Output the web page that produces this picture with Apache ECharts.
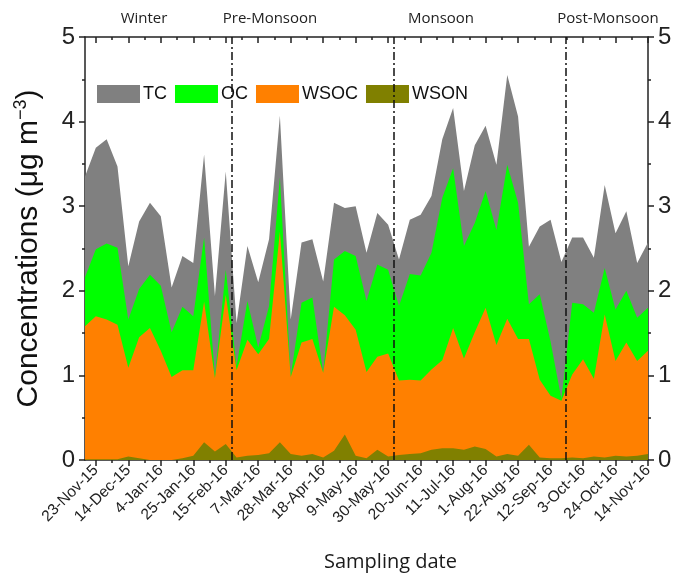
<!DOCTYPE html>
<html>
<head>
    <meta charset="UTF-8">
    <title>Carbon fractions</title>
    <script type="text/javascript" src="https://cdn.jsdelivr.net/npm/echarts@6/dist/echarts.min.js"></script>
</head>
<body style="margin: 0;overflow: hidden;background: #fff;">
<div id="chart" style="width: 677px;height: 577px;"></div>
<script type="text/javascript">
    // weekly samples, 16-Nov-15 .. 14-Nov-16
    var startDate = Date.UTC(2015, 10, 16);
    var weeks = 53;
    var tc = [3.35, 3.69, 3.79, 3.47, 2.29, 2.82, 3.04, 2.88, 2.04, 2.41, 2.33, 3.61, 1.94, 3.41, 1.62, 2.53, 2.10, 2.61,
        4.07, 1.66, 2.57, 2.61, 2.11, 3.04, 2.98, 3.00, 2.45, 2.92, 2.78, 2.37, 2.84, 2.90, 3.12, 3.79, 4.16, 3.18,
        3.72, 3.95, 3.49, 4.55, 4.06, 2.52, 2.76, 2.84, 2.34, 2.63, 2.63, 2.39, 3.25, 2.68, 2.94, 2.33, 2.57];
    var oc = [2.16, 2.49, 2.56, 2.51, 1.66, 2.02, 2.19, 2.06, 1.51, 1.81, 1.70, 2.63, 0.99, 2.25, 1.11, 1.88, 1.33, 1.82,
        3.34, 0.99, 1.86, 1.92, 1.03, 2.37, 2.47, 2.41, 1.88, 2.31, 2.25, 1.82, 2.20, 2.18, 2.45, 3.10, 3.45, 2.53,
        2.80, 3.18, 2.72, 3.49, 3.04, 1.84, 1.96, 1.40, 0.72, 1.86, 1.84, 1.74, 2.27, 1.78, 2.00, 1.68, 1.80];
    var wsoc = [1.58, 1.70, 1.66, 1.60, 1.09, 1.45, 1.56, 1.29, 0.98, 1.06, 1.06, 1.87, 0.97, 1.95, 1.06, 1.42, 1.25, 1.43,
        2.70, 0.98, 1.39, 1.43, 1.03, 1.81, 1.71, 1.54, 1.04, 1.22, 1.26, 0.94, 0.95, 0.94, 1.07, 1.18, 1.56, 1.20,
        1.51, 1.80, 1.36, 1.67, 1.43, 1.43, 0.95, 0.76, 0.70, 1.01, 1.19, 0.96, 1.72, 1.17, 1.39, 1.17, 1.29];
    var wson = [0.01, 0.01, 0.01, 0.01, 0.04, 0.02, 0.00, 0.00, 0.00, 0.02, 0.05, 0.21, 0.10, 0.19, 0.03, 0.05, 0.06, 0.08,
        0.21, 0.07, 0.05, 0.07, 0.03, 0.11, 0.30, 0.05, 0.02, 0.12, 0.04, 0.06, 0.07, 0.08, 0.12, 0.14, 0.14, 0.12,
        0.16, 0.13, 0.04, 0.07, 0.05, 0.18, 0.03, 0.02, 0.02, 0.03, 0.02, 0.04, 0.03, 0.05, 0.04, 0.05, 0.07];
    // season boundaries, in weeks from the first sample
    var seasonBreaks = [13.6, 28.5, 44.4];
    var seasons = ['Winter', 'Pre-Monsoon', 'Monsoon', 'Post-Monsoon'];
    var seasonX = [144, 270, 441, 608];

    var months = ['Jan', 'Feb', 'Mar', 'Apr', 'May', 'Jun', 'Jul', 'Aug', 'Sep', 'Oct', 'Nov', 'Dec'];
    var dates = [];
    for (var i = 0; i < weeks; i++) {
        var d = new Date(startDate + i * 7 * 86400000);
        dates.push(d.getUTCDate() + '-' + months[d.getUTCMonth()] + '-' + String(d.getUTCFullYear()).slice(2));
    }
    var halfWeeks = [];
    for (var j = 0; j < weeks * 2 - 1; j++) {
        halfWeeks.push('h' + j);
    }
    function isMajor(idx) { return idx % 3 === 1; }
    function isMinor(idx) { return idx % 6 === 5; }

    var axisColor = '#222';
    var chart = echarts.init(document.getElementById('chart'));

    var option = {
        backgroundColor: '#fff',
        animation: false,
        grid: {left: 85, right: 29, top: 37, bottom: 116},
        legend: {
            data: ['TC', 'OC', 'WSOC', 'WSON'],
            left: 92,
            top: 80,
            icon: 'rect',
            itemWidth: 43,
            itemHeight: 18,
            itemGap: 8,
            textStyle: {fontFamily: 'Liberation Sans', fontSize: 18, color: '#111', padding: [0, 0, 0, -2]}
        },
        graphic: seasons.map(function (s, k) {
            return {
                type: 'text',
                x: seasonX[k],
                y: 11,
                style: {text: s, font: '15px "Open Sans"', fill: '#222', align: 'center'}
            };
        }),
        xAxis: [{
            type: 'category',
            data: dates,
            boundaryGap: false,
            position: 'bottom',
            name: 'Sampling date',
            nameLocation: 'middle',
            nameGap: 92,
            nameTextStyle: {fontFamily: 'Open Sans', fontSize: 20, color: '#1a1a1a', padding: [0, 0, 0, 48]},
            axisLine: {lineStyle: {color: axisColor, width: 1.5}},
            axisTick: {interval: isMajor, length: 6, lineStyle: {color: axisColor, width: 1.5}},
            axisLabel: {interval: isMajor, rotate: 45, fontFamily: 'Liberation Sans', fontSize: 15.5, color: '#222', margin: 8},
            splitLine: {show: false}
        }, {
            type: 'category',
            data: halfWeeks,
            boundaryGap: false,
            position: 'bottom',
            axisLine: {show: false},
            axisTick: {interval: isMinor, length: 3, lineStyle: {color: axisColor, width: 1.5}},
            axisLabel: {show: false},
            splitLine: {show: false}
        }, {
            type: 'category',
            data: dates,
            boundaryGap: false,
            position: 'top',
            axisLine: {lineStyle: {color: axisColor, width: 1.5}},
            axisTick: {interval: isMajor, inside: true, length: 6, lineStyle: {color: axisColor, width: 1.5}},
            axisLabel: {show: false},
            splitLine: {show: false}
        }, {
            type: 'category',
            data: halfWeeks,
            boundaryGap: false,
            position: 'top',
            axisLine: {show: false},
            axisTick: {interval: isMinor, inside: true, length: 3, lineStyle: {color: axisColor, width: 1.5}},
            axisLabel: {show: false},
            splitLine: {show: false}
        }, {
            type: 'value',
            min: 0,
            max: weeks - 1,
            show: false
        }],
        yAxis: [{
            type: 'value',
            min: 0,
            max: 5,
            interval: 1,
            position: 'left',
            name: '{a|Concentrations (μg m}{b|−3}{a|)}',
            nameLocation: 'middle',
            nameRotate: 90,
            nameGap: 40,
            nameTextStyle: {
                rich: {
                    a: {fontFamily: 'Liberation Sans', fontSize: 30, color: '#111', lineHeight: 33},
                    b: {fontFamily: 'Liberation Sans', fontSize: 18, color: '#111', verticalAlign: 'top', lineHeight: 33}
                }
            },
            axisLine: {show: true, lineStyle: {color: axisColor, width: 1.5}},
            axisTick: {show: true, length: 6, lineStyle: {color: axisColor, width: 1.5}},
            minorTick: {show: true, splitNumber: 2, length: 3, lineStyle: {color: axisColor, width: 1.5}},
            axisLabel: {fontFamily: 'Liberation Sans', fontSize: 24, color: '#222', margin: 10},
            splitLine: {show: false}
        }, {
            type: 'value',
            min: 0,
            max: 5,
            interval: 1,
            position: 'right',
            axisLine: {show: true, lineStyle: {color: axisColor, width: 1.5}},
            axisTick: {show: true, length: 6, lineStyle: {color: axisColor, width: 1.5}},
            minorTick: {show: true, splitNumber: 2, length: 3, lineStyle: {color: axisColor, width: 1.5}},
            axisLabel: {fontFamily: 'Liberation Sans', fontSize: 24, color: '#222', margin: 10},
            splitLine: {show: false}
        }],
        series: [
            {name: 'TC', type: 'line', data: tc, color: '#808080'},
            {name: 'OC', type: 'line', data: oc, color: '#00ff00'},
            {name: 'WSOC', type: 'line', data: wsoc, color: '#ff8000'},
            {name: 'WSON', type: 'line', data: wson, color: '#808000'}
        ].map(function (s) {
            s.symbol = 'none';
            s.lineStyle = {width: 0};
            s.areaStyle = {opacity: 1};
            s.silent = true;
            return s;
        }).concat([{
            type: 'line',
            xAxisIndex: 4,
            data: [],
            silent: true,
            markLine: {
                symbol: 'none',
                silent: true,
                label: {show: false},
                lineStyle: {color: '#111', width: 1.5, type: [8, 3, 2, 3]},
                data: seasonBreaks.map(function (b) { return {xAxis: b}; })
            }
        }])
    };
    chart.setOption(option);
</script>
</body>
</html>
